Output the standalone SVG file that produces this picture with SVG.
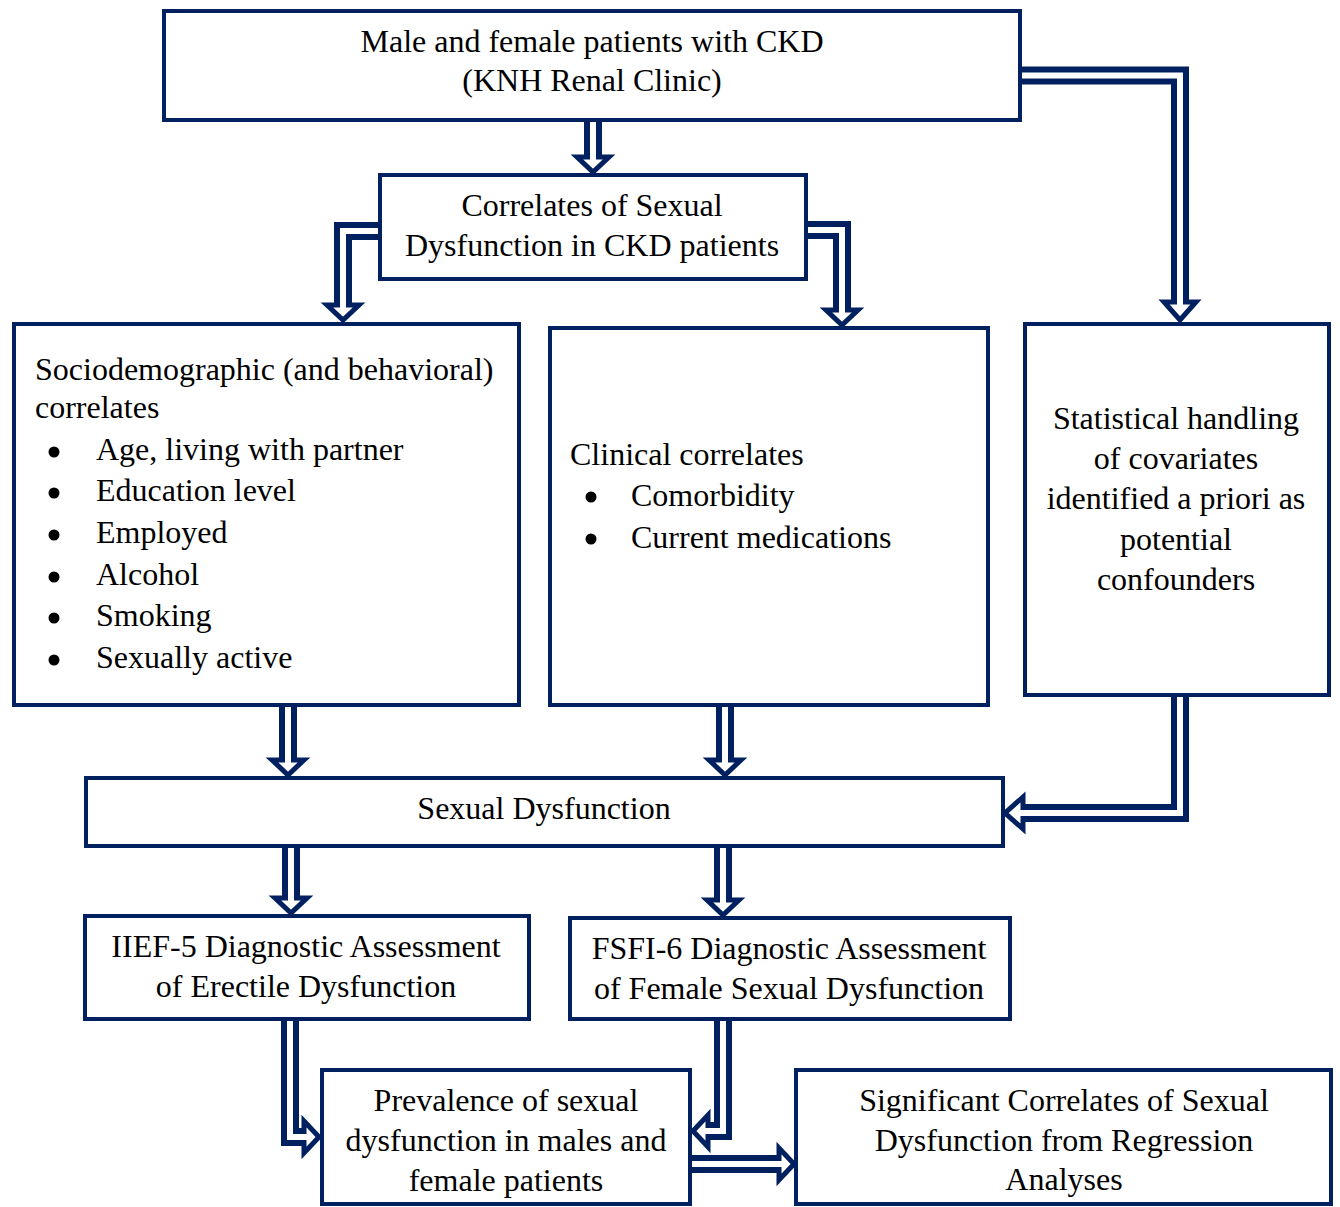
<svg xmlns="http://www.w3.org/2000/svg" width="1340" height="1207" viewBox="0 0 1340 1207">
<style>
.bx{fill:#fff;stroke:#002060;stroke-width:4}
.so{fill:none;stroke:#002060;stroke-width:18;stroke-linejoin:miter}
.si{fill:none;stroke:#fff;stroke-width:6;stroke-linejoin:miter}
.hd{fill:#fff;stroke:#002060;stroke-width:5;stroke-linejoin:miter}
text{font-family:"Liberation Serif","Times New Roman",serif;font-size:32px;fill:#000}
.c{text-anchor:middle}
</style>
<rect width="1340" height="1207" fill="#fff"/>
<g id="connectors">
<path class="so" d="M593 120 V157"/><polygon class="hd" points="577,157 609,157 593,172"/><path class="si" d="M593 120 V163"/>
<path class="so" d="M380 231 H343 V305"/><polygon class="hd" points="327,305 359,305 343,320"/><path class="si" d="M380 231 H343 V311"/>
<path class="so" d="M806 230 H842 V310"/><polygon class="hd" points="826,310 858,310 842,325"/><path class="si" d="M806 230 H842 V316"/>
<path class="so" d="M1020 75.5 H1180 V302"/><polygon class="hd" points="1164,302 1196,302 1180,320"/><path class="si" d="M1020 75.5 H1180 V309"/>
<path class="so" d="M1180 697 V813 H1023"/><polygon class="hd" points="1023,797 1023,829 1005,813"/><path class="si" d="M1180 697 V813 H1016"/>
<path class="so" d="M288 705 V760"/><polygon class="hd" points="272,760 304,760 288,775"/><path class="si" d="M288 705 V766"/>
<path class="so" d="M725 705 V760"/><polygon class="hd" points="709,760 741,760 725,775"/><path class="si" d="M725 705 V766"/>
<path class="so" d="M291 846 V898"/><polygon class="hd" points="275,898 307,898 291,913"/><path class="si" d="M291 846 V904"/>
<path class="so" d="M723 846 V900"/><polygon class="hd" points="707,900 739,900 723,915"/><path class="si" d="M723 846 V906"/>
<path class="so" d="M290 1019 V1137 H304"/><polygon class="hd" points="304,1121 304,1153 319,1137"/><path class="si" d="M290 1019 V1137 H310"/>
<path class="so" d="M723 1019 V1131 H708"/><polygon class="hd" points="708,1115 708,1147 693,1131"/><path class="si" d="M723 1019 V1131 H702"/>
<path class="so" d="M690 1164 H779"/><polygon class="hd" points="779,1148 779,1180 794,1164"/><path class="si" d="M690 1164 H785"/>
</g>
<g id="n1"><rect class="bx" x="164" y="11" width="856" height="109"/>
<text class="c" x="592" y="52">Male and female patients with CKD</text>
<text class="c" x="592" y="91">(KNH Renal Clinic)</text></g>
<g id="n2"><rect class="bx" x="380" y="175" width="426" height="104"/>
<text class="c" x="592" y="216">Correlates of Sexual</text>
<text class="c" x="592" y="256">Dysfunction in CKD patients</text></g>
<g id="n3"><rect class="bx" x="14" y="324" width="505" height="381"/>
<text x="35" y="380">Sociodemographic (and behavioral)</text>
<text x="35" y="418">correlates</text>
<g fill="#000"><circle cx="54" cy="452" r="5.5"/><circle cx="54" cy="493" r="5.5"/><circle cx="54" cy="535" r="5.5"/><circle cx="54" cy="577" r="5.5"/><circle cx="54" cy="618" r="5.5"/><circle cx="54" cy="660" r="5.5"/></g>
<text x="96" y="460">Age, living with partner</text>
<text x="96" y="501">Education level</text>
<text x="96" y="543">Employed</text>
<text x="96" y="585">Alcohol</text>
<text x="96" y="626">Smoking</text>
<text x="96" y="668">Sexually active</text></g>
<g id="n4"><rect class="bx" x="550" y="328" width="438" height="377"/>
<text x="570" y="465">Clinical correlates</text>
<g fill="#000"><circle cx="591" cy="497" r="5.5"/><circle cx="591" cy="539" r="5.5"/></g>
<text x="631" y="506">Comorbidity</text>
<text x="631" y="548">Current medications</text></g>
<g id="n5"><rect class="bx" x="1025" y="324" width="304" height="371"/>
<text class="c" x="1176" y="429">Statistical handling</text>
<text class="c" x="1176" y="469">of covariates</text>
<text class="c" x="1176" y="509">identified a priori as</text>
<text class="c" x="1176" y="550">potential</text>
<text class="c" x="1176" y="590">confounders</text></g>
<g id="n6"><rect class="bx" x="86" y="778" width="917" height="68"/>
<text class="c" x="544" y="819">Sexual Dysfunction</text></g>
<g id="n7"><rect class="bx" x="85" y="916" width="444" height="103"/>
<text class="c" x="306" y="957">IIEF-5 Diagnostic Assessment</text>
<text class="c" x="306" y="997">of Erectile Dysfunction</text></g>
<g id="n8"><rect class="bx" x="570" y="918" width="440" height="101"/>
<text class="c" x="789" y="959">FSFI-6 Diagnostic Assessment</text>
<text class="c" x="789" y="999">of Female Sexual Dysfunction</text></g>
<g id="n9"><rect class="bx" x="322" y="1070" width="368" height="134"/>
<text class="c" x="506" y="1111">Prevalence of sexual</text>
<text class="c" x="506" y="1151">dysfunction in males and</text>
<text class="c" x="506" y="1191">female patients</text></g>
<g id="n10"><rect class="bx" x="796" y="1070" width="535" height="134"/>
<text class="c" x="1064" y="1111">Significant Correlates of Sexual</text>
<text class="c" x="1064" y="1151">Dysfunction from Regression</text>
<text class="c" x="1064" y="1190">Analyses</text></g>
</svg>
